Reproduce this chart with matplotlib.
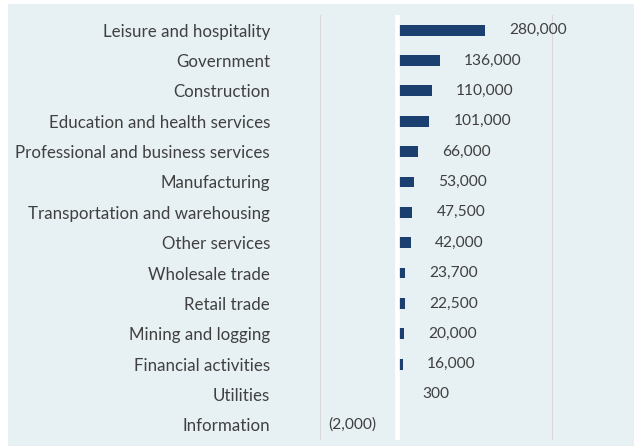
import matplotlib as mpl
mpl.use('Agg')
import matplotlib.pyplot as plt
from matplotlib.patches import Rectangle

categories = [
    "Leisure and hospitality",
    "Government",
    "Construction",
    "Education and health services",
    "Professional and business services",
    "Manufacturing",
    "Transportation and warehousing",
    "Other services",
    "Wholesale trade",
    "Retail trade",
    "Mining and logging",
    "Financial activities",
    "Utilities",
    "Information",
]
jobs = [280000, 136000, 110000, 101000, 66000, 53000, 47500,
        42000, 23700, 22500, 20000, 16000, 300, -2000]

bg = "#E7F0F3"
bar_color = "#1B3F6E"
text_color = "#404040"

plt.rcParams['font.family'] = ['Lato', 'DejaVu Sans']

fig = plt.figure(figsize=(6.34, 4.46), dpi=100)
fig.patch.set_facecolor("white")
fig.patches.append(Rectangle((8 / 634, 0), 1, (446 - 4) / 446, transform=fig.transFigure,
                             facecolor=bg, edgecolor="none", zorder=-10))

ax = fig.add_axes([320 / 634, 6 / 446, (553 - 320) / 634, (440 - 15) / 446])
ax.set_facecolor("none")

y = range(len(categories))
ax.barh(y, jobs, height=0.36, color=bar_color, zorder=3)
ax.set_xlim(-250000, 500000)
ax.set_ylim(len(categories) - 0.5, -0.5)

for x in (-250000, 500000):
    ax.axvline(x, color="#D9D9D9", lw=1.5, zorder=1)
# white zero line sits on top of the bar roots, like the Excel original
ax.axvline(-1000, color="white", lw=3.4, zorder=4)

for i, v in enumerate(jobs):
    txt = f"{abs(v):,}"
    if v < 0:
        txt = f"({txt})"
        ax.annotate(txt, (v, i), xytext=(-15, 0), textcoords="offset points",
                    ha="right", va="center", fontsize=11.2, color=text_color)
    else:
        ax.annotate(txt, (v, i), xytext=(17.5, 0), textcoords="offset points",
                    ha="left", va="center", fontsize=11.2, color=text_color)

ax.set_yticks(list(y))
ax.set_yticklabels(categories, fontsize=12.2, color=text_color)
ax.tick_params(axis="y", length=0, pad=36)
ax.set_xticks([])
for s in ax.spines.values():
    s.set_visible(False)

fig.savefig("out.png", dpi=100)
